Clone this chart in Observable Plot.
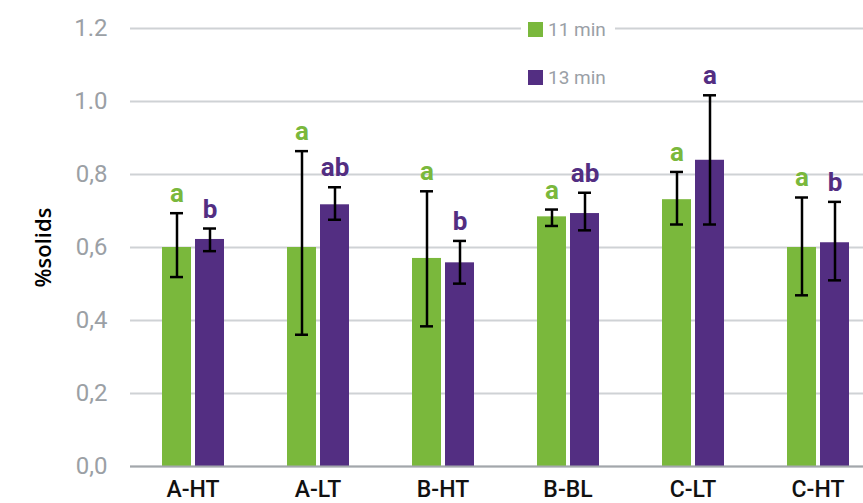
<!DOCTYPE html>
<html><head><meta charset="utf-8">
<script src="https://cdn.jsdelivr.net/npm/d3@7"></script>
<script src="https://cdn.jsdelivr.net/npm/@observablehq/plot@0.6"></script>
<style>
body{margin:0;background:#fff;}
#wrap{position:relative;width:863px;height:503px;overflow:hidden;background:#fff;}
#legend{position:absolute;left:521px;top:16px;width:94px;background:#fff;font:19px Roboto, sans-serif;color:#9aa0a6;}
.row{display:flex;align-items:center;height:27px;padding-left:7px;}
.row + .row{margin-top:21px;}
.sw{width:15px;height:15px;margin-right:5px;}
</style></head>
<body><div id="wrap"></div>
<script>
const categories = ["A-HT", "A-LT", "B-HT", "B-BL", "C-LT", "C-HT"];
const series = ["11 min", "13 min"];
const colors = ["#7ab83c", "#532e82"];
const mean11 = [0.60, 0.60, 0.57, 0.684, 0.731, 0.60];
const mean13 = [0.622, 0.717, 0.558, 0.693, 0.839, 0.613];
const errHigh11 = [0.694, 0.864, 0.754, 0.704, 0.807, 0.737];
const errLow11 = [0.519, 0.361, 0.384, 0.659, 0.663, 0.469];
const errHigh13 = [0.652, 0.765, 0.618, 0.750, 1.017, 0.725];
const errLow13 = [0.590, 0.676, 0.501, 0.647, 0.663, 0.510];
const letters11 = ["a", "a", "a", "a", "a", "a"];
const letters13 = ["b", "ab", "b", "ab", "a", "b"];
const yTicks = [0, 0.2, 0.4, 0.6, 0.8, 1.0, 1.2];
const yTickLabels = ["0,0", "0,2", "0,4", "0,6", "0,8", "1.0", "1.2"];
const yLabel = "%solids";

const rows = categories.flatMap((c, i) => [
  {category: c, series: series[0], value: mean11[i], lo: errLow11[i], hi: errHigh11[i], letter: letters11[i]},
  {category: c, series: series[1], value: mean13[i], lo: errLow13[i], hi: errHigh13[i], letter: letters13[i]}
]);

const plot = Plot.plot({
  width: 863, height: 503,
  marginLeft: 130, marginRight: -17, marginTop: 28, marginBottom: 37,
  style: {fontFamily: "Roboto, sans-serif", background: "#fff", overflow: "hidden"},
  fx: {domain: categories, paddingInner: 0, paddingOuter: 0, label: null},
  x: {domain: series, paddingInner: 0.134, paddingOuter: 0.933, axis: null},
  y: {domain: [0, 1.2]},
  color: {domain: series, range: colors},
  marks: [
    Plot.gridY(yTicks, {stroke: "#cfd2d5", strokeOpacity: 1, strokeWidth: 2}),
    Plot.barY(rows, {fx: "category", x: "series", y: "value", fill: "series"}),
    Plot.ruleY([0], {stroke: "#a3a7ab", strokeWidth: 2}),
    Plot.ruleX(rows, {fx: "category", x: "series", y1: "lo", y2: "hi", stroke: "#000", strokeWidth: 2.5}),
    Plot.tickY(rows, {fx: "category", x: "series", y: "hi", stroke: "#000", strokeWidth: 2.5, insetLeft: 8, insetRight: 8}),
    Plot.tickY(rows, {fx: "category", x: "series", y: "lo", stroke: "#000", strokeWidth: 2.5, insetLeft: 8, insetRight: 8}),
    Plot.text(rows, {fx: "category", x: "series", y: "hi", text: "letter", fill: "series", lineAnchor: "bottom", dy: -11, fontSize: 26, fontWeight: "bold"}),
    Plot.axisY(yTicks, {tickSize: 0, tickPadding: 23, tickFormat: d => yTickLabels[yTicks.indexOf(d)], fontSize: 24, fill: "#9ba0a5", label: null}),
    Plot.axisY({ticks: [], tickSize: 0, label: yLabel, labelArrow: "none", labelAnchor: "center", labelOffset: 95, fill: "#000", fontSize: 22, fontWeight: 600, fontFamily: "Open Sans"}),
    Plot.axisFx({anchor: "bottom", tickSize: 0, tickPadding: 14, fontSize: 23, fontWeight: 500, fill: "#111", label: null})
  ]
});

const wrap = document.getElementById("wrap");
wrap.appendChild(plot);
const legend = document.createElement("div");
legend.id = "legend";
legend.innerHTML = series.map((s, i) => `<div class="row"><span class="sw" style="background:${colors[i]}"></span><span>${s}</span></div>`).join("");
wrap.appendChild(legend);
</script>
</body></html>
